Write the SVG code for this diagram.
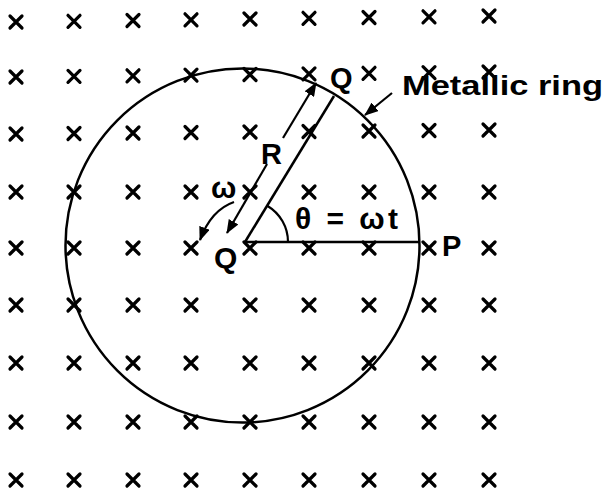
<svg xmlns="http://www.w3.org/2000/svg" xmlns:xlink="http://www.w3.org/1999/xlink" width="605" height="493" viewBox="0 0 605 493">
<style>
.x{stroke:#000;stroke-width:3.2;stroke-linecap:round;fill:none}
.ln{stroke:#000;stroke-width:2.5;fill:none}
.thin{stroke:#000;stroke-width:2.2;fill:none}
.t{font-family:"Liberation Sans",Arial,sans-serif;font-weight:bold;fill:#000}
</style>
<defs>
<path id="cx" class="x" d="M-6,-6L6,6M6,-6L-6,6"/>
<marker id="ah" viewBox="0 0 14 11" refX="13" refY="5.5" markerWidth="14" markerHeight="11" markerUnits="userSpaceOnUse" orient="auto-start-reverse">
<path d="M0,0L14,5.5L0,11z" fill="#000"/>
</marker>
</defs>
<rect width="605" height="493" fill="#fff"/>
<g id="field">
<use href="#cx" x="16" y="22"/><use href="#cx" x="74" y="21.3"/><use href="#cx" x="133" y="20.5"/><use href="#cx" x="191" y="19.8"/><use href="#cx" x="250" y="19"/><use href="#cx" x="309" y="18.3"/><use href="#cx" x="369" y="17.5"/><use href="#cx" x="429" y="16.8"/><use href="#cx" x="489" y="16"/>
<use href="#cx" x="16" y="77"/><use href="#cx" x="74" y="76.4"/><use href="#cx" x="133" y="75.8"/><use href="#cx" x="191" y="75.1"/><use href="#cx" x="250" y="74.5"/><use href="#cx" x="309" y="73.9"/><use href="#cx" x="369" y="73.3"/><use href="#cx" x="429" y="72.6"/><use href="#cx" x="489" y="72"/>
<use href="#cx" x="16" y="134"/><use href="#cx" x="74" y="133.5"/><use href="#cx" x="133" y="133"/><use href="#cx" x="191" y="132.5"/><use href="#cx" x="250" y="132"/><use href="#cx" x="309" y="131.5"/><use href="#cx" x="369" y="131"/><use href="#cx" x="429" y="130.5"/><use href="#cx" x="489" y="130"/>
<use href="#cx" x="16" y="192"/><use href="#cx" x="74" y="192"/><use href="#cx" x="133" y="192"/><use href="#cx" x="191" y="192"/><use href="#cx" x="250" y="192"/><use href="#cx" x="309" y="192"/><use href="#cx" x="369" y="192"/><use href="#cx" x="429" y="192"/><use href="#cx" x="489" y="192"/>
<use href="#cx" x="16" y="248"/><use href="#cx" x="74" y="248"/><use href="#cx" x="133" y="248"/><use href="#cx" x="191" y="248"/><use href="#cx" x="250" y="248"/><use href="#cx" x="309" y="248"/><use href="#cx" x="369" y="248"/><use href="#cx" x="429" y="248"/><use href="#cx" x="489" y="248"/>
<use href="#cx" x="16" y="305"/><use href="#cx" x="74" y="305"/><use href="#cx" x="133" y="305"/><use href="#cx" x="191" y="305"/><use href="#cx" x="250" y="305"/><use href="#cx" x="309" y="305"/><use href="#cx" x="369" y="305"/><use href="#cx" x="429" y="305"/><use href="#cx" x="489" y="305"/>
<use href="#cx" x="16" y="363"/><use href="#cx" x="74" y="363"/><use href="#cx" x="133" y="363"/><use href="#cx" x="191" y="363"/><use href="#cx" x="250" y="363"/><use href="#cx" x="309" y="363"/><use href="#cx" x="369" y="363"/><use href="#cx" x="429" y="363"/><use href="#cx" x="489" y="363"/>
<use href="#cx" x="16" y="422"/><use href="#cx" x="74" y="422"/><use href="#cx" x="133" y="422"/><use href="#cx" x="191" y="422"/><use href="#cx" x="250" y="422"/><use href="#cx" x="309" y="422"/><use href="#cx" x="369" y="422"/><use href="#cx" x="429" y="422"/><use href="#cx" x="489" y="422"/>
<use href="#cx" x="16" y="480"/><use href="#cx" x="74" y="480"/><use href="#cx" x="133" y="480"/><use href="#cx" x="191" y="480"/><use href="#cx" x="250" y="480"/><use href="#cx" x="309" y="480"/><use href="#cx" x="369" y="480"/><use href="#cx" x="429" y="480"/><use href="#cx" x="489" y="480"/>
</g>
<g id="ring">
<circle class="ln" cx="242.5" cy="245.5" r="177"/>
</g>
<g id="center-Q">
<text class="t" x="214" y="268" font-size="30">Q</text>
</g>
<g id="ring-Q">
<text class="t" x="330" y="88" font-size="29">Q</text>
</g>
<g id="P">
<text class="t" x="442" y="256" font-size="29">P</text>
</g>
<g id="label-ring">
<text class="t" x="402" y="95" font-size="28" textLength="201" lengthAdjust="spacingAndGlyphs">Metallic ring</text>
</g>
<g id="label-R">
<text class="t" x="261" y="164" font-size="29">R</text>
</g>
<g id="label-omega">
<text class="t" x="211" y="198" font-size="30">ω</text>
</g>
<g id="label-theta">
<text class="t" x="295" y="229" font-size="30" textLength="103" lengthAdjust="spacing">θ = ωt</text>
</g>
<g id="connectors">
<line class="ln" x1="245" y1="242" x2="419" y2="242"/>
<line class="ln" x1="245" y1="242" x2="334" y2="96"/>
<path class="thin" d="M288,242A42,42 0 0 0 267.6,206"/>
<line class="thin" x1="283" y1="138" x2="316" y2="83" marker-end="url(#ah)"/>
<line class="thin" x1="267" y1="164" x2="227" y2="233" marker-end="url(#ah)"/>
<path class="thin" d="M234,202Q211,210 200,240" marker-end="url(#ah)"/>
<line class="thin" x1="392" y1="93" x2="365" y2="115" marker-end="url(#ah)"/>
</g>
</svg>
